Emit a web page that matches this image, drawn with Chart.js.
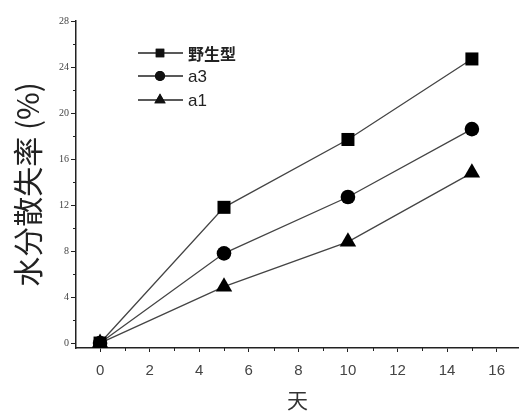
<!DOCTYPE html>
<html><head><meta charset="utf-8">
<script src="https://cdn.jsdelivr.net/npm/chart.js@4.4.1/dist/chart.umd.min.js"></script>
<style>html,body{margin:0;padding:0;background:#fff}#w{width:519px;height:413px}</style>
</head><body><div id="w"><canvas id="c"></canvas></div>
<script>
const days = [0, 5, 10, 15];
const wildType = [0, 11.8, 17.7, 24.7];
const a3 = [0, 7.8, 12.7, 18.6];
const a1 = [0, 4.9, 8.8, 14.8];
const seriesNames = ['野生型', 'a3', 'a1'];
const xTicks = [0, 2, 4, 6, 8, 10, 12, 14, 16];
const yTicks = [0, 4, 8, 12, 16, 20, 24, 28];
const xTitle = '天';
const yTitle = '水分散失率 (%)';

const toPts = arr => days.map((d, i) => ({x: d, y: arr[i]}));
const styles = ['rect', 'circle', 'triangle'];
const radii = [9.2, 7.3, 9.5];
const zeroPad = () => ({left: 0, top: 0, right: 0, bottom: 0});

const minorTicks = {
  id: 'minorTicks',
  afterDraw(chart) {
    const {ctx, scales: {x, y}} = chart;
    ctx.save();
    ctx.strokeStyle = '#222';
    ctx.lineWidth = 1;
    ctx.beginPath();
    for (let v = 1; v < 17; v += 2) {
      const px = Math.round(x.getPixelForValue(v)) + 0.5;
      ctx.moveTo(px, x.top); ctx.lineTo(px, x.top + 3);
    }
    for (let v = 2; v < 28; v += 4) {
      const py = Math.round(y.getPixelForValue(v)) + 0.5;
      ctx.moveTo(y.right, py); ctx.lineTo(y.right - 3, py);
    }
    ctx.stroke();
    ctx.restore();
  }
};

const legendPlugin = {
  id: 'customLegend',
  afterDraw(chart) {
    const {ctx} = chart;
    ctx.save();
    const rows = [53, 76, 100];
    chart.data.datasets.forEach((ds, i) => {
      const yy = rows[i];
      ctx.strokeStyle = '#222';
      ctx.lineWidth = 1.5;
      ctx.beginPath(); ctx.moveTo(138, yy); ctx.lineTo(183, yy); ctx.stroke();
      ctx.fillStyle = '#111';
      Chart.helpers.drawPoint(ctx, {pointStyle: styles[i], radius: i === 0 ? 6 : (i === 1 ? 5 : 6.5), borderWidth: 0}, 160, yy);
      ctx.fill();
      ctx.fillStyle = '#222';
      ctx.font = (i === 0 ? 'bold 16px "Noto Sans CJK SC"' : '17px "Liberation Sans"');
      ctx.textBaseline = 'middle';
      ctx.fillText(ds.label, 188, yy + 1);
    });
    ctx.restore();
  }
};

new Chart(document.getElementById('c'), {
  type: 'line',
  data: {
    datasets: [wildType, a3, a1].map((arr, i) => ({
      label: seriesNames[i],
      data: toPts(arr),
      borderColor: '#444',
      borderWidth: 1.3,
      pointStyle: styles[i],
      pointRadius: radii[i],
      pointBackgroundColor: '#000',
      pointBorderColor: '#000',
      pointBorderWidth: 0,
      tension: 0
    }))
  },
  options: {
    responsive: true,
    maintainAspectRatio: false,
    animation: false,
    layout: {autoPadding: false, padding: {left: 0, right: 0, top: 21, bottom: 0}},
    plugins: {legend: {display: false}, tooltip: {enabled: false}},
    scales: {
      x: {
        type: 'linear', min: -0.97, max: 16.9,
        afterBuildTicks: s => { s.ticks = xTicks.map(v => ({value: v})); },
        afterFit: s => { s.height = 65; s.paddingLeft = 0; s.paddingRight = 0; s.getPadding = zeroPad; },
        grid: {drawOnChartArea: false, drawTicks: true, tickLength: 4, color: '#222', tickColor: '#222'},
        border: {display: true, color: '#222', width: 1.5},
        ticks: {color: '#444', font: {family: 'Liberation Sans', size: 15}, padding: 10, maxRotation: 0, autoSkip: false},
        title: {display: true, text: xTitle, color: '#333', font: {family: 'Noto Sans CJK SC', size: 21}, padding: {top: 0, bottom: 0}}
      },
      y: {
        type: 'linear', min: -0.43, max: 28,
        afterBuildTicks: s => { s.ticks = yTicks.map(v => ({value: v})); },
        afterFit: s => { s.width = 76; s.paddingTop = 0; s.paddingBottom = 0; s.getPadding = zeroPad; },
        grid: {drawOnChartArea: false, drawTicks: true, tickLength: 5, color: '#222', tickColor: '#222'},
        border: {display: true, color: '#222', width: 1.5},
        ticks: {color: '#444', font: {family: 'Liberation Serif', size: 10}, padding: 2, autoSkip: false},
        title: {display: true, text: yTitle, color: '#222', font: {family: 'Noto Sans CJK SC', size: 30}, padding: {top: 10, bottom: 0}}
      }
    }
  },
  plugins: [minorTicks, legendPlugin]
});
</script></body></html>
